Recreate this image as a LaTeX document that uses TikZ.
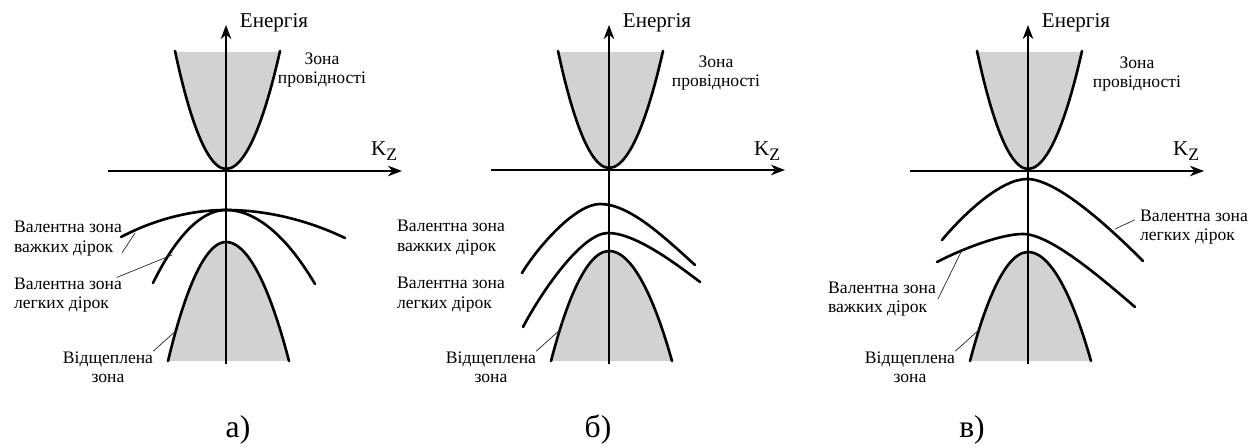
\documentclass[tikz,border=0pt]{standalone}
\usepackage{fontspec}
\setmainfont{Liberation Serif}
\usetikzlibrary{arrows.meta}
\tikzset{
  >={Stealth[length=8pt, width=6pt, inset=2.5pt]},
  every picture/.style={line cap=round, line join=round},
  px/.style={x=0.02cm, y=-0.02cm},
  axis/.style={->, line width=1.1pt, line cap=butt},
  band/.style={line width=1.5pt},
  bandfill/.style={fill=gray!35},
  leader/.style={thin, black!85},
  lbl/.style={font=\fontsize{10}{11}\selectfont, inner sep=1pt},
  note/.style={lbl, align=left, anchor=west},
  axlbl/.style={font=\fontsize{12}{14}\selectfont, inner sep=0pt},
  caption/.style={font=\fontsize{18}{20}\selectfont, inner sep=0pt},
}

\begin{document}
\begin{tikzpicture}[px]
  \useasboundingbox (0,0) rectangle (1256,448);
  % common parts of the three panels: axes, conduction band, split-off band
  \foreach \p/\ax/\hy/\sv/\zx/\zy/\cx/\capt in {a/226/171/242/96/70/238/а, b/609/170/251/107/73/598/б, c/1028/171/252/109/74/972/в}{
    \fill[bandfill] (\ax-51,52) parabola bend (\ax,\hy-2) (\ax+54,52) -- cycle;
    \fill[bandfill] (\ax-58,361) parabola bend (\ax,\sv) (\ax+63,361) -- cycle;
    \draw[axis] (\ax,364) -- (\ax,25);
    \draw[axis] (\ax-118,\hy) -- (\ax+176,\hy);
    \draw[band] (\ax-51,51) parabola bend (\ax,\hy-2) (\ax+54,51);
    \draw[band] (\ax-58,361) parabola bend (\ax,\sv) (\ax+63,361);
    \node[axlbl] (energy\p) at (\ax+48,23) {Енергія};
    \node[axlbl] (kz\p) at (\ax+158,151) {K\raisebox{-0.45ex}{\fontsize{10}{10}\selectfont Z}};
    \node[lbl, align=center] (cond\p) at (\ax+\zx,\zy) {Зона\\провідності};
    \node[lbl, align=center] (split\p) at (\ax-118,367) {Відщеплена\\зона};
    \coordinate (sc\p) at (\ax-48,329);
    \draw[leader] ([xshift=-1pt,yshift=-1pt]split\p.north east) -- (sc\p);
    \node[caption] (cap\p) at (\cx,430) {\capt)};
  }
  % a)
  \draw[band] (121,237) parabola bend (226,210) (345,238);
  \draw[band] (153,283) parabola bend (226,210) (315,284);
  \node[note] (heavya) at (12,238.5) {Валентна зона\\важких дірок};
  \node[note] (lighta) at (12,295) {Валентна зона\\легких дірок};
  \coordinate (hca) at (135,233);
  \coordinate (lca) at (172,255);
  \draw[leader] ([xshift=-1pt,yshift=3pt]heavya.south east) -- (hca);
  \draw[leader] ([xshift=-4pt,yshift=-1pt]lighta.north east) -- (lca);
  % b)
  \draw[band] (522,273) .. controls (537,248) and (575,204) .. (600,204)
    .. controls (630,204) and (665,238) .. (695,265);
  \draw[band] (523,327) .. controls (542,291) and (582,233) .. (608,233)
    .. controls (635,233) and (675,263) .. (700,282);
  \node[note] (heavyb) at (395,237.5) {Валентна зона\\важких дірок};
  \node[note] (lightb) at (395,294.5) {Валентна зона\\легких дірок};
  % c)
  \draw[band] (942,240) .. controls (962,216) and (1000,179) .. (1027,179)
    .. controls (1057,179) and (1110,228) .. (1143,261);
  \draw[band] (937,262) .. controls (960,250) and (1000,234) .. (1023,234)
    .. controls (1050,234) and (1100,277) .. (1135,307);
  \node[note] (lightc) at (1138,227) {Валентна зона\\легких дірок};
  \node[note] (heavyc) at (826,299) {Валентна зона\\важких дірок};
  \coordinate (lcc) at (1115,229);
  \coordinate (hcc) at (962,250);
  \draw[leader] (lcc) -- ([xshift=-2pt,yshift=4pt]lightc.west);
  \draw[leader] (heavyc.east) -- (hcc);
\end{tikzpicture}
\end{document}
